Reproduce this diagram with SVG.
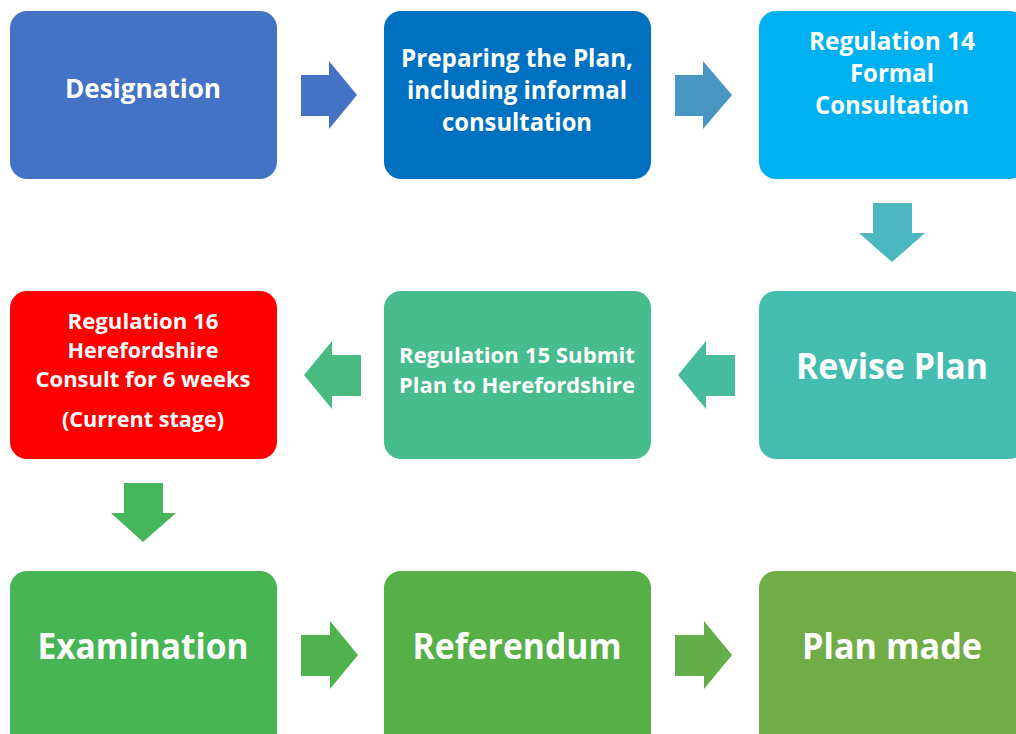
<svg xmlns="http://www.w3.org/2000/svg" width="1016" height="734" viewBox="0 0 1016 734">
<style>
.box{stroke:none}
.t{font-family:"Open Sans","Liberation Sans",sans-serif;font-weight:700;fill:#fff;text-anchor:middle}
.s22{font-size:22px}.s25{font-size:25px}.s27{font-size:27px}.s35{font-size:35px}.s36{font-size:36px}
</style>
<rect width="1016" height="734" fill="#fff"/>
<g id="connectors">
<polygon points="301,75 329,75 329,61 357,95 329,129 329,116 301,116" fill="#4472C4"/>
<polygon points="675,75 703,75 703,61 732,95 703,129 703,116 675,116" fill="#4797C2"/>
<polygon points="873,203 912,203 912,233 925,233 892,262 859,233 873,233" fill="#4BB8C0"/>
<polygon points="735,355 706,355 706,341 678,375 706,409 706,396 735,396" fill="#46BC9C"/>
<polygon points="361,355 332,355 332,341 304,375 332,409 332,396 361,396" fill="#48BB80"/>
<polygon points="124,483 163,483 163,513 176,513 143,542 111,513 124,513" fill="#47B55A"/>
<polygon points="301,635 330,635 330,621 358,655 330,689 330,676 301,676" fill="#4EB34C"/>
<polygon points="675,635 704,635 704,621 732,655 704,689 704,676 675,676" fill="#63AE48"/>
</g>
<g id="n1"><rect class="box" x="10" y="11" width="267" height="168" rx="17" fill="#4472C4"/><text class="t s27" x="143" y="98" textLength="156" lengthAdjust="spacingAndGlyphs">Designation</text></g>
<g id="n2"><rect class="box" x="384" y="11" width="267" height="168" rx="17" fill="#0070C0"/>
<text class="t s25" x="517" y="67" textLength="232" lengthAdjust="spacingAndGlyphs">Preparing the Plan,</text>
<text class="t s25" x="517" y="99" textLength="220" lengthAdjust="spacingAndGlyphs">including informal</text>
<text class="t s25" x="517" y="131" textLength="150" lengthAdjust="spacingAndGlyphs">consultation</text></g>
<g id="n3"><rect class="box" x="759" y="11" width="267" height="168" rx="17" fill="#00B0F0"/>
<text class="t s25" x="892" y="50" textLength="166" lengthAdjust="spacingAndGlyphs">Regulation 14</text>
<text class="t s25" x="892" y="82" textLength="84" lengthAdjust="spacingAndGlyphs">Formal</text>
<text class="t s25" x="892" y="114" textLength="154" lengthAdjust="spacingAndGlyphs">Consultation</text></g>
<g id="n4"><rect class="box" x="759" y="291" width="267" height="168" rx="17" fill="#44BDB1"/>
<text class="t s35" x="892" y="379" textLength="192" lengthAdjust="spacingAndGlyphs">Revise Plan</text></g>
<g id="n5"><rect class="box" x="384" y="291" width="267" height="168" rx="17" fill="#47BC8E"/>
<text class="t s22" x="517" y="363" textLength="236" lengthAdjust="spacingAndGlyphs">Regulation 15 Submit</text>
<text class="t s22" x="517" y="393" textLength="236" lengthAdjust="spacingAndGlyphs">Plan to Herefordshire</text></g>
<g id="n6"><rect class="box" x="10" y="291" width="267" height="168" rx="17" fill="#FF0000"/>
<text class="t s22" x="143" y="329" textLength="151" lengthAdjust="spacingAndGlyphs">Regulation 16</text>
<text class="t s22" x="143" y="358" textLength="151" lengthAdjust="spacingAndGlyphs">Herefordshire</text>
<text class="t s22" x="143" y="387" textLength="215" lengthAdjust="spacingAndGlyphs">Consult for 6 weeks</text>
<text class="t s22" x="143" y="427" textLength="162" lengthAdjust="spacingAndGlyphs">(Current stage)</text></g>
<g id="n7"><rect class="box" x="10" y="571" width="267" height="180" rx="17" fill="#47B553"/>
<text class="t s36" x="143" y="659" textLength="211" lengthAdjust="spacingAndGlyphs">Examination</text></g>
<g id="n8"><rect class="box" x="384" y="571" width="267" height="180" rx="17" fill="#56B047"/>
<text class="t s36" x="517" y="659" textLength="209" lengthAdjust="spacingAndGlyphs">Referendum</text></g>
<g id="n9"><rect class="box" x="759" y="571" width="267" height="180" rx="17" fill="#70AD47"/>
<text class="t s36" x="892" y="659" textLength="180" lengthAdjust="spacingAndGlyphs">Plan made</text></g>
</svg>
